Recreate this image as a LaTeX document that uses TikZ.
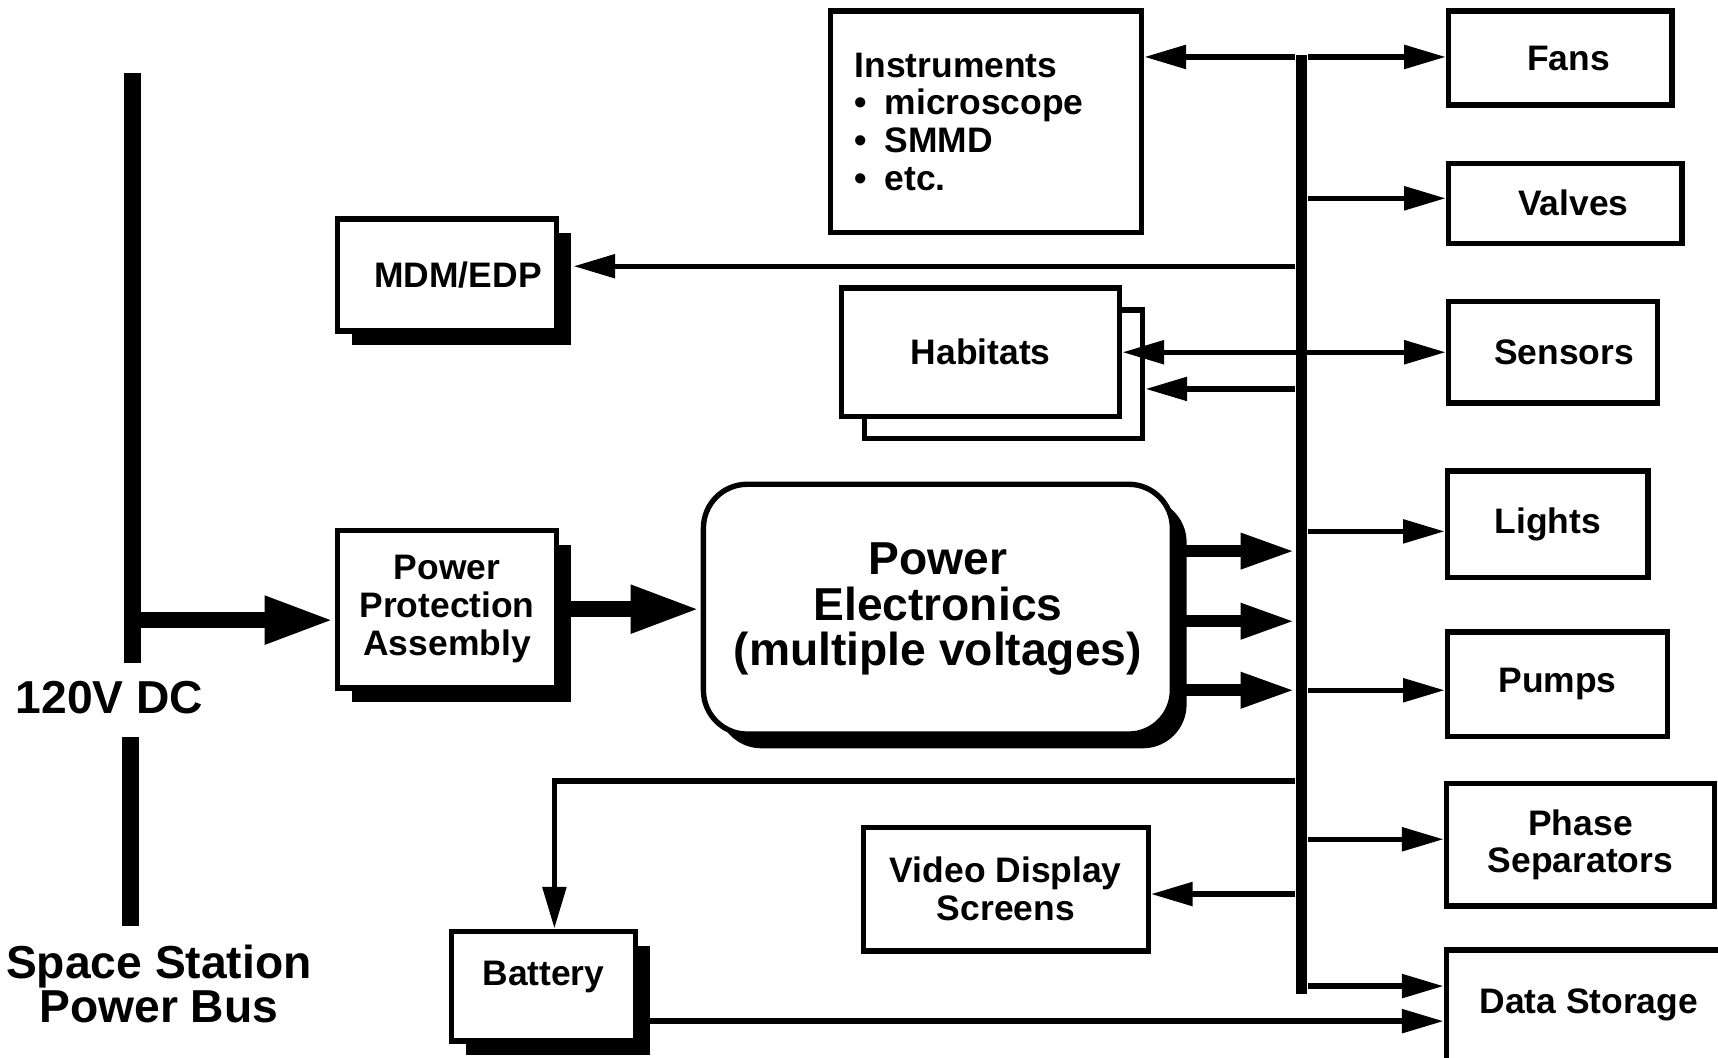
\documentclass[tikz,border=0pt]{standalone}
\usepackage{fontspec}
\setmainfont{Liberation Sans}
\usetikzlibrary{arrows.meta, positioning, calc, shadows}

\newcommand{\boxfont}{\fontsize{9.2}{9.8}\selectfont\bfseries}
\newcommand{\bigfont}{\fontsize{12}{11.9}\selectfont\bfseries}
\newcommand{\busfont}{\fontsize{12}{11.4}\selectfont\bfseries}
\newcommand{\itembullet}{\textbullet\hspace{4.6pt}}

\begin{document}
\begin{tikzpicture}[
  box/.style={draw, line width=1.4pt, fill=white, align=center, font=\boxfont, inner sep=2pt},
  shbox/.style={box, drop shadow={shadow xshift=0.13cm, shadow yshift=-0.13cm, fill=black, opacity=1}},
  bar/.style={fill, inner sep=0pt},
  arr/.style={-{Triangle[length=3.8mm, width=2.1mm]}, line width=1.4pt},
  darr/.style={{Triangle[length=3.8mm, width=2.1mm]}-{Triangle[length=3.8mm, width=2.1mm]}, line width=1.4pt},
  tarr/.style={-{Triangle[length=5mm, width=3mm]}, line width=3.2pt},
  barr/.style={-{Triangle[length=6.4mm, width=4mm]}, line width=4.3pt}
]
\clip (0,0) rectangle (15.68,9.65);

% station bus
\node[bar, minimum width=0.15cm, minimum height=5.38cm] (bus) at (1.21,6.29) {};
\node[bar, minimum width=0.15cm, minimum height=1.72cm] (buslow) at (1.19,2.06) {};
\node[font=\bigfont] (volt) at (1.00,3.28) {120V DC};
\node[font=\busfont, align=center] (busname) at (1.45,0.67) {Space Station\\Power Bus};
\coordinate (tap) at (1.21,3.99);

% left column
\node[shbox, minimum width=2.00cm, minimum height=1.44cm] (ppa) at (4.08,4.09) {Power\\Protection\\Assembly};
\node[shbox, minimum width=2.00cm, minimum height=1.02cm] (mdm) at (4.08,7.14) {\hspace*{0.2cm}MDM/EDP};
\node[shbox, minimum width=1.68cm, minimum height=1.00cm, text depth=0.23cm] (batt) at (4.96,0.65) {Battery};

% middle column
\node[shbox, rounded corners=0.4cm, minimum width=4.28cm, minimum height=2.28cm, font=\bigfont] (pe) at (8.56,4.09) {Power\\Electronics\\(multiple voltages)};
\node[box, minimum width=2.84cm, minimum height=2.02cm, text width=2.40cm, align=left] (instr) at (9.00,8.54) {Instruments\\\itembullet microscope\\\itembullet SMMD\\\itembullet etc.};
\node[box, minimum width=2.54cm, minimum height=1.17cm] (habback) at (9.16,6.235) {};
\node[box, minimum width=2.54cm, minimum height=1.17cm] (hab) at (8.95,6.435) {Habitats};
\node[box, minimum width=2.60cm, minimum height=1.13cm] (video) at (9.18,1.535) {Video Display\\Screens};

% loads
\node[box, minimum width=2.04cm, minimum height=0.86cm] (fans) at (14.24,9.12) {\hspace*{0.15cm}Fans};
\node[box, minimum width=2.13cm, minimum height=0.73cm] (valves) at (14.285,7.795) {\hspace*{0.15cm}Valves};
\node[box, minimum width=1.91cm, minimum height=0.93cm] (sensors) at (14.175,6.435) {\hspace*{0.2cm}Sensors};
\node[box, minimum width=1.83cm, minimum height=0.97cm] (lights) at (14.125,4.865) {Lights};
\node[box, minimum width=2.01cm, minimum height=0.95cm] (pumps) at (14.215,3.405) {Pumps};
\node[box, minimum width=2.45cm, minimum height=1.12cm] (phase) at (14.425,1.94) {Phase\\Separators};
\node[box, minimum width=2.60cm, minimum height=1.01cm] (store) at (14.50,0.475) {Data Storage};

% distribution bus
\node[bar, minimum width=0.10cm, minimum height=8.57cm] (bus2) at (11.88,4.865) {};

\draw[barr] (tap) -- (tap -| ppa.west);
\draw[barr] (ppa.east) -- (pe.west);
\foreach \y in {4.62,3.98,3.35}
  \draw[tarr] (pe.east |- 0,\y) -- (bus2.west |- 0,\y);

\foreach \y/\n in {9.13/fans, 7.84/valves, 4.80/lights, 3.35/pumps, 1.99/phase, 0.65/store}
  \draw[arr] (bus2.east |- 0,\y) -- (\n.west |- 0,\y);

\draw[arr] (bus2.west |- 0,9.13) -- (instr.east |- 0,9.13);
\draw[arr] (bus2.west |- 0,7.22) -- ([xshift=0.13cm]mdm.east |- 0,7.22);
\draw[darr] (hab.east) -- (sensors.west);
\draw[arr] (bus2.west |- 0,6.10) -- (habback.east |- 0,6.10);
\draw[arr] (bus2.west |- 0,1.49) -- (video.east |- 0,1.49);
\draw[arr] (bus2.west |- 0,2.52) -| ([xshift=0.1cm]batt.north);
\draw[arr] ([yshift=-0.32cm]batt.east) -- ([yshift=-0.32cm]batt.east -| store.west);

\end{tikzpicture}
\end{document}
